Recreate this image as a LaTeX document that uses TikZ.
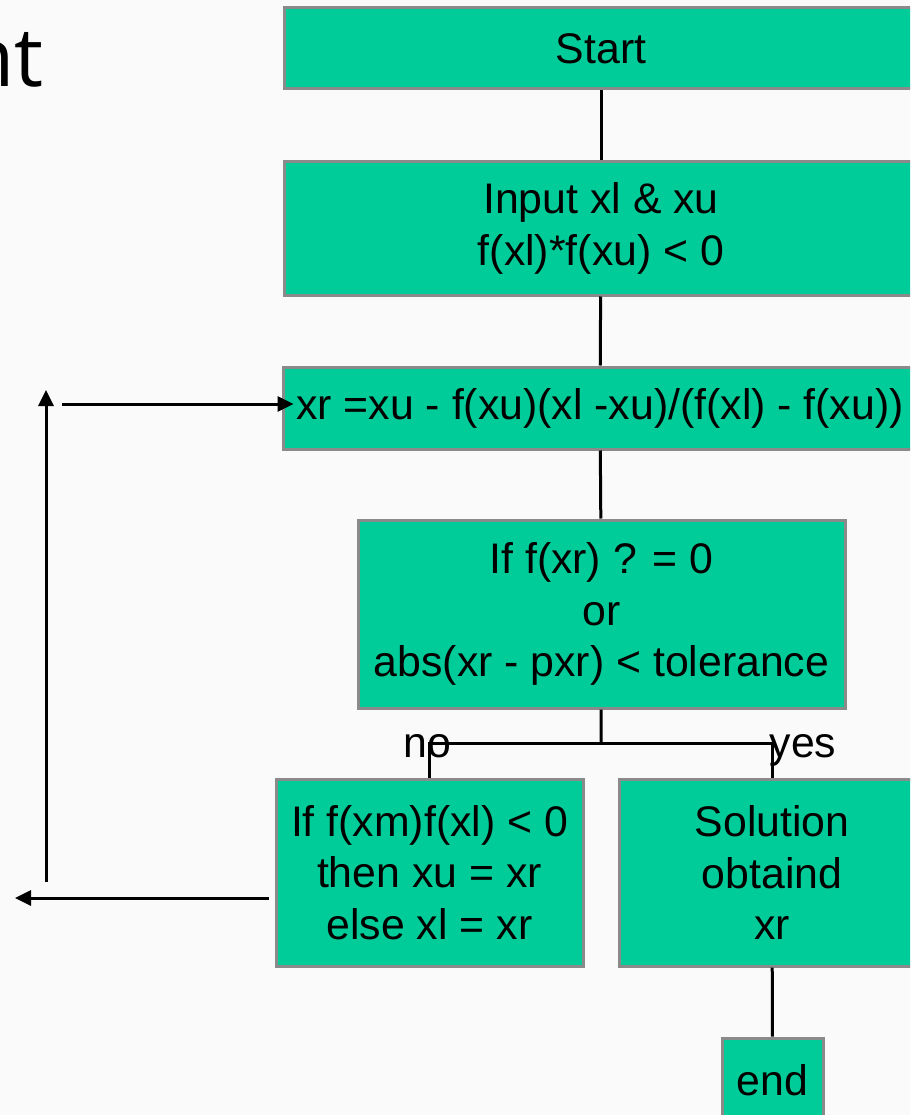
\documentclass[tikz,border=0pt]{standalone}
\usepackage{fontspec}
\setmainfont{Liberation Sans}
\newfontfamily\titlefont{Open Sans}
\usetikzlibrary{arrows.meta}
\definecolor{boxgreen}{HTML}{00CC99}
\definecolor{boxborder}{HTML}{8A8A8A}
\begin{document}
\begin{tikzpicture}[x=1pt,y=-1pt,
  box/.style={draw=boxborder, line width=3pt, fill=boxgreen, inner sep=0pt,
    align=center, font=\fontsize{42.8}{51.5}\selectfont},
  lbl/.style={font=\fontsize{42.8}{51.5}\selectfont, inner sep=0pt, anchor=base},
  conn/.style={line width=3pt, black},
  arr/.style={conn, -{Triangle[length=16pt,width=15pt]}}]
\useasboundingbox (0,0) rectangle (910,1115);
\clip (0,0) rectangle (910,1115);
\fill[white!98!black] (0,0) rectangle (910,1115);
\node[anchor=base east, font=\titlefont\fontsize{82}{90}\selectfont] (title) at (47,87) {nt};
\node[box, minimum width=634pt, minimum height=81pt] (start) at (601,48.5) {Start};
\node[box, minimum width=634pt, minimum height=133pt] (input) at (601,228.5) {Input xl \& xu\\f(xl)*f(xu) < 0};
\node[box, minimum width=634pt, minimum height=82pt] (xr) at (600,408) {xr =xu - f(xu)(xl -xu)/(f(xl) - f(xu))};
\node[box, minimum width=487pt, minimum height=188pt] (cond) at (601.5,614) {If f(xr) ? = 0\\or\\abs(xr - pxr) < tolerance};
\node[box, minimum width=307pt, minimum height=187pt] (nobox) at (429.5,872.5) {If f(xm)f(xl) < 0\\then xu = xr\\else xl = xr};
\node[box, minimum width=306pt, minimum height=187pt] (sol) at (772,872.5) {Solution\\obtaind\\xr};
\node[box, minimum width=101pt, minimum height=84pt] (endn) at (772.5,1080) {end};
\draw[conn] (start) -- (input);
\draw[conn] (input) -- (xr);
\draw[conn] (xr) -- (cond);
\coordinate (j) at (601,743);
\draw[conn] (cond) -- (j);
\draw[conn] (nobox.north) |- (j) -| (sol.north);
\draw[conn] (sol) -- (endn);
\node[lbl] (nolbl) at (427,757) {no};
\node[lbl] (yeslbl) at (803,757) {yes};
\coordinate (fbB) at (15,898);
\draw[arr] ([xshift=-6pt,yshift=-25.5pt]nobox.west) -- (fbB);
\coordinate (upB) at (46,882);
\coordinate (upT) at (46,390);
\draw[arr] (upB) -- (upT);
\coordinate (inL) at (62,404);
\draw[arr] (inL) -- ([xshift=12pt,yshift=4pt]xr.west);
\end{tikzpicture}
\end{document}
